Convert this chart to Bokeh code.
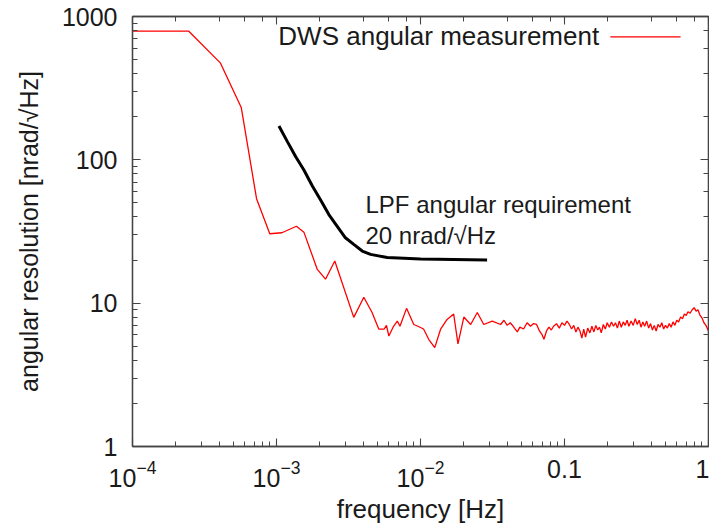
from bokeh.plotting import figure
from bokeh.models import LogAxis, Label, LogTickFormatter, BasicTickFormatter, Arrow
from bokeh.embed import file_html
from bokeh.resources import INLINE

meas_freq = [1.0e-4, 2.46e-4, 4.07e-4, 5.69e-4, 7.27e-4, 8.98e-4, 1.09e-3, 1.375e-3, 1.55e-3,
             1.92e-3, 2.19e-3, 2.54e-3, 3.44e-3, 4.04e-3, 4.61e-3, 5.13e-3, 5.6e-3, 5.8e-3, 6.03e-3,
             6.5e-3, 6.9e-3, 7.2e-3, 8.0e-3, 8.98e-3, 9.6e-3, 0.0105, 0.0114, 0.01256, 0.0138,
             0.0153, 0.017, 0.0182, 0.020, 0.0223, 0.0248, 0.0275, 0.0315, 0.036,
             0.038, 0.040, 0.042, 0.044, 0.047, 0.049, 0.052, 0.055, 0.058, 0.061, 0.064, 0.067,
             0.070, 0.072, 0.075, 0.078, 0.081, 0.084, 0.088, 0.092, 0.096, 0.100, 0.104, 0.108,
             0.112, 0.116, 0.120, 0.124, 0.128, 0.132, 0.136, 0.140, 0.145, 0.150, 0.155, 0.160,
             0.165, 0.170, 0.175, 0.180, 0.186, 0.192, 0.198, 0.205, 0.212, 0.219, 0.226, 0.233,
             0.240, 0.248, 0.256, 0.264, 0.272, 0.280, 0.290, 0.300, 0.310, 0.320, 0.330, 0.340,
             0.350, 0.360, 0.372, 0.384, 0.396, 0.408, 0.420, 0.433, 0.446, 0.460, 0.474, 0.488,
             0.503, 0.518, 0.534, 0.550, 0.567, 0.584, 0.602, 0.620, 0.640, 0.660, 0.680, 0.700,
             0.720, 0.745, 0.770, 0.795, 0.820, 0.845, 0.870, 0.900, 0.930, 0.960, 1.000]
meas_val = [790, 790, 475, 232, 53.6, 30.5, 31, 34.4, 31.3,
            17.2, 14.7, 19.7, 7.96, 11.0, 8.6, 6.6, 6.6, 7.0, 5.9,
            6.9, 7.5, 6.9, 9.2, 7.1, 6.9, 6.6, 5.6, 4.9, 6.6,
            7.7, 8.4, 5.2, 8.0, 7.1, 8.6, 7.1, 7.5, 7.1,
            7.6, 7.0, 7.3, 6.9, 6.3, 6.8, 6.6, 7.3, 6.9, 7.2, 7.1, 6.4,
            6.0, 5.6, 6.4, 6.8, 6.5, 6.9, 7.2, 6.7, 7.3, 7.0, 7.5, 7.1,
            6.6, 7.0, 6.3, 6.8, 6.4, 5.7, 6.6, 5.8, 6.7, 6.2, 6.9, 6.3,
            7.0, 6.5, 6.8, 6.2, 7.1, 6.6, 7.3, 6.8, 7.4, 6.9, 7.3, 6.7,
            7.5, 6.8, 7.4, 7.0, 7.6, 6.9, 7.5, 7.0, 7.8, 7.1, 7.6, 6.8,
            7.4, 6.9, 7.5, 6.7, 7.2, 6.5, 7.0, 6.4, 7.1, 6.8, 7.3, 6.6,
            7.0, 6.7, 7.2, 6.8, 7.4, 7.0, 7.6, 7.4, 8.0, 7.8, 8.4, 8.2,
            8.7, 8.5, 9.0, 9.3, 8.8, 9.0, 8.3, 7.9, 7.3, 7.0, 6.4]

# LPF angular requirement curve
req_freq = [1.04e-3, 1.19e-3, 1.36e-3, 1.55e-3, 1.77e-3, 2.02e-3, 2.31e-3, 2.64e-3, 3.01e-3,
            3.44e-3, 3.94e-3, 4.5e-3, 5.87e-3, 0.0100, 0.029]
req_val = [172, 134, 105, 85, 65.9, 52.7, 41.5, 34.4, 28.6,
           25.7, 23.1, 21.9, 20.8, 20.3, 20.0]

legend_text = "DWS angular measurement"
req_text_1 = "LPF angular requirement"
req_text_2 = "20 nrad/\u221aHz"
x_label = "frequency [Hz]"
y_label = "angular resolution [nrad/\u221aHz]"

FONT = "Liberation Sans"
AX = "#444444"

p = figure(width=709, height=527, x_axis_type="log", y_axis_type="log",
           x_range=(1e-4, 1), y_range=(1, 1000),
           output_backend="svg", toolbar_location=None,
           min_border_left=132, min_border_right=1, min_border_top=16, min_border_bottom=81)
p.grid.visible = False
p.outline_line_color = AX
p.outline_line_width = 1.3
p.background_fill_color = "white"
p.border_fill_color = "white"


def style(ax, labels=True):
    ax.axis_line_color = AX
    ax.axis_line_width = 1.3
    ax.major_tick_line_color = AX
    ax.minor_tick_line_color = AX
    ax.major_tick_line_width = 1.1
    ax.minor_tick_line_width = 1.0
    ax.major_tick_in = 8
    ax.major_tick_out = 0
    ax.minor_tick_in = 5
    ax.minor_tick_out = 0
    if labels:
        ax.major_label_text_font = FONT
        ax.major_label_text_font_size = "25px"
        ax.major_label_text_color = "#1a1a1a"
        ax.axis_label_text_font = FONT
        ax.axis_label_text_font_size = "25px"
        ax.axis_label_text_font_style = "normal"
        ax.axis_label_text_color = "#1a1a1a"
    else:
        ax.major_label_text_font_size = "1px"
        ax.major_label_text_alpha = 0
        ax.major_label_standoff = 0


xa = p.xaxis[0]
ya = p.yaxis[0]
style(xa)
style(ya)
xa.formatter = LogTickFormatter(min_exponent=2)
ya.formatter = BasicTickFormatter()
xa.axis_label = x_label
ya.axis_label = y_label
xa.axis_label_text_font_size = "26px"
xa.major_label_standoff = 13
ya.major_label_standoff = 15
xa.axis_label_standoff = 4
ya.axis_label_standoff = 16

top = LogAxis()
right = LogAxis()
style(top, labels=False)
style(right, labels=False)
p.add_layout(top, "above")
p.add_layout(right, "right")

p.line(meas_freq, meas_val, line_color="#ff0000", line_width=1.3)
p.line(req_freq, req_val, line_color="black", line_width=3)

# annotations
p.add_layout(Label(x=4.15e-3, y=49.0, text=req_text_1, text_font=FONT, text_font_size="24px",
                   text_color="#1a1a1a", text_baseline="alphabetic"))
p.add_layout(Label(x=4.15e-3, y=29.7, text=req_text_2, text_font=FONT, text_font_size="24px",
                   text_color="#1a1a1a", text_baseline="alphabetic"))
# legend (label followed by key line, as in the reference)
p.add_layout(Label(x=1.03e-3, y=727, text=legend_text, text_font=FONT, text_font_size="26px",
                   text_color="#1a1a1a", text_baseline="middle"))
p.add_layout(Arrow(x_start=0.208, y_start=720, x_end=0.64, y_end=720, end=None,
                   line_color="#ff0000", line_width=1.3))

open("out.html", "w").write(file_html(p, INLINE))
